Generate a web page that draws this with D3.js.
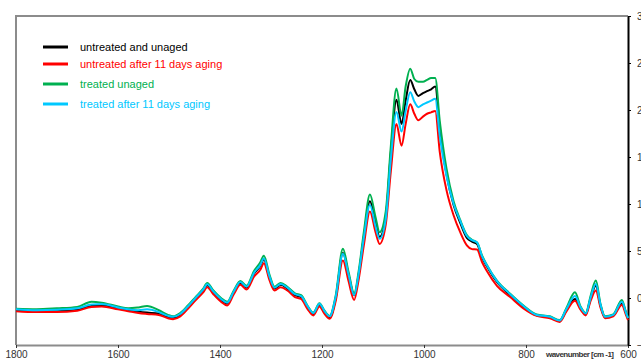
<!DOCTYPE html>
<html>
<head>
<meta charset="utf-8">
<script src="https://cdn.jsdelivr.net/npm/d3@7"></script>
<style>
  body { margin: 0; background: #fff; overflow: hidden; }
  svg { display: block; font-family: "Liberation Sans", Arial, sans-serif; }
</style>
</head>
<body>
<div id="chart"></div>
<script>
// wavenumbers (cm-1)
var wavenumbers = [
  1800, 1760, 1720, 1680, 1652, 1632, 1600, 1580, 1560, 1543,
  1520, 1502, 1492, 1478, 1463, 1448, 1433, 1425, 1413, 1398,
  1386, 1373, 1360, 1348, 1333, 1321, 1314, 1303, 1293, 1281,
  1268, 1253, 1241, 1228, 1217, 1205, 1195, 1185, 1173, 1159,
  1148, 1137, 1128, 1118, 1106, 1095, 1087, 1075, 1065, 1054,
  1044, 1036, 1027, 1019, 1011, 1002, 994, 986, 978, 969,
  956, 942, 929, 916, 906, 896, 886, 877, 857, 831,
  805, 779, 753, 734, 721, 704, 693, 683, 673, 663,
  654, 645, 629, 612, 604, 600
]

var untreatedUnaged = [
  -130, -140, -140, -125, -85, -80, -110, -130, -145, -155,
  -165, -200, -210, -180, -100, -10, 80, 135, 60, -20,
  -60, 60, 160, 110, 260, 340, 410, 220, 100, 140,
  100, 30, 10, -100, -170, -70, -150, -205, 0, 480,
  250, 30, 250, 650, 1030, 800, 650, 860, 1550, 2110,
  1850, 2100, 2320, 2220, 2150, 2180, 2200, 2220, 2250, 1800,
  1320, 990, 800, 640, 600, 575, 430, 340, 170, 30,
  -95, -185, -205, -245, -130, -10, -110, -170, 0, 130,
  -80, -205, -185, -60, -160, -220
]

var untreatedAged = [
  -140, -150, -150, -135, -95, -90, -120, -140, -160, -170,
  -180, -215, -225, -195, -115, -25, 60, 115, 40, -40,
  -80, 40, 140, 90, 230, 300, 370, 190, 80, 115,
  80, 10, -10, -120, -185, -90, -170, -220, -30, 400,
  180, -20, 200, 560, 920, 700, 575, 780, 1350, 1850,
  1620, 1850, 2060, 1960, 1890, 1930, 1960, 1975, 1990, 1550,
  1150, 880, 700, 560, 520, 515, 380, 290, 130, 10,
  -110, -190, -215, -255, -145, -30, -125, -185, -25, 80,
  -100, -215, -195, -75, -180, -235
]

var treatedUnaged = [
  -115, -120, -110, -95, -40, -50, -90, -110, -100, -85,
  -130, -180, -195, -160, -80, 10, 100, 160, 80, 0,
  -40, 80, 180, 130, 290, 380, 450, 250, 120, 160,
  120, 50, 30, -85, -155, -55, -135, -190, 30, 525,
  280, 50, 290, 700, 1100, 860, 700, 920, 1620, 2230,
  1940, 2250, 2440, 2330, 2300, 2300, 2320, 2340, 2340, 1880,
  1380, 1030, 830, 670, 620, 590, 450, 355, 185, 45,
  -80, -175, -195, -235, -110, 60, -90, -160, 30, 185,
  -60, -195, -175, -20, -150, -210
]

var treatedAged = [
  -120, -130, -125, -110, -70, -65, -100, -120, -130, -120,
  -150, -190, -200, -170, -90, 0, 90, 145, 70, -10,
  -50, 70, 170, 120, 270, 350, 420, 230, 110, 150,
  110, 40, 20, -90, -160, -60, -140, -195, 15, 470,
  250, 30, 260, 640, 990, 760, 630, 840, 1480, 1980,
  1770, 1990, 2190, 2090, 2030, 2060, 2080, 2100, 2120, 1720,
  1300, 1000, 820, 660, 615, 590, 440, 350, 180, 40,
  -85, -180, -200, -240, -120, 20, -100, -165, 10, 150,
  -70, -200, -180, -40, -155, -215
]

var seriesNames = ['untreated and unaged', 'untreated after 11 days aging', 'treated unaged', 'treated after 11 days aging']
var seriesColors = ['#000000', '#ff0000', '#00b050', '#00c8ff']
var xTicks = [1800, 1600, 1400, 1200, 1000, 800, 600]
var yTicks = [-500, 0, 500, 1000, 1500, 2000, 2500, 3000]

var series = [untreatedUnaged, untreatedAged, treatedUnaged, treatedAged]

var W = 641, H = 362
// plot box edges (note: "top" is a reserved window property, so prefixed names)
var plotLeft = 16, plotRight = 628, plotTop = 16, plotBottom = 345

var svg = d3.select('#chart').append('svg')
    .attr('width', W)
    .attr('height', H)

var x = d3.scaleLinear().domain([1800, 600]).range([plotLeft, plotRight])
var y = d3.scaleLinear().domain([-500, 3000]).range([plotBottom, plotTop])

// gray frame (left and top)
svg.append('path')
    .attr('d', 'M' + plotLeft + ',' + plotBottom + 'V' + plotTop + 'H' + plotRight)
    .attr('fill', 'none')
    .attr('stroke', '#8c8c8c')
    .attr('stroke-width', 2)

// bottom axis
var xAxis = svg.append('g')
    .attr('transform', 'translate(0,' + plotBottom + ')')
    .call(d3.axisBottom(x).tickValues(xTicks).tickFormat(d3.format('d')).tickSize(3).tickSizeOuter(0))
xAxis.select('.domain').attr('stroke', '#8c8c8c').attr('stroke-width', 2)
xAxis.selectAll('.tick line').attr('stroke', '#333')
xAxis.selectAll('.tick text')
    .attr('y', 6)
    .attr('dy', '0.71em')
    .style('font-size', '10px')
    .attr('fill', '#333')

// right axis (labels run off the edge, as in the original export)
var yAxis = svg.append('g')
    .attr('transform', 'translate(' + plotRight + ',0)')
    .call(d3.axisRight(y).tickValues(yTicks).tickFormat(d3.format('d')).tickSize(3).tickSizeOuter(0))
yAxis.select('.domain').attr('stroke', '#000').attr('stroke-width', 2)
yAxis.selectAll('.tick text')
    .attr('x', 9)
    .style('font-size', '10px')
    .attr('fill', '#333')

svg.append('text')
    .attr('x', 546)
    .attr('y', 357)
    .attr('textLength', 68)
    .style('font-size', '8px')
    .style('font-weight', 'bold')
    .attr('fill', '#333')
    .text('wavenumber [cm -1]')

// spectra
var line = d3.line()
    .x(function(d, i) { return x(wavenumbers[i]) })
    .y(function(d) { return y(d) })
    .curve(d3.curveMonotoneX)

svg.append('g').selectAll('path')
    .data(series)
    .enter().append('path')
    .attr('d', line)
    .attr('fill', 'none')
    .attr('stroke', function(d, i) { return seriesColors[i] })
    .attr('stroke-width', 2)
    .attr('stroke-linejoin', 'round')

// legend
var legendY = [47, 64, 84, 104]
var legend = svg.append('g').selectAll('g')
    .data(seriesNames)
    .enter().append('g')
    .attr('transform', function(d, i) { return 'translate(43,' + legendY[i] + ')' })

legend.append('line')
    .attr('x1', 0).attr('x2', 25)
    .attr('stroke', function(d, i) { return seriesColors[i] })
    .attr('stroke-width', 3)

legend.append('text')
    .attr('x', 37)
    .attr('dy', '0.35em')
    .style('font-size', '11px')
    .attr('fill', function(d, i) { return seriesColors[i] })
    .text(function(d) { return d })
</script>
</body>
</html>
